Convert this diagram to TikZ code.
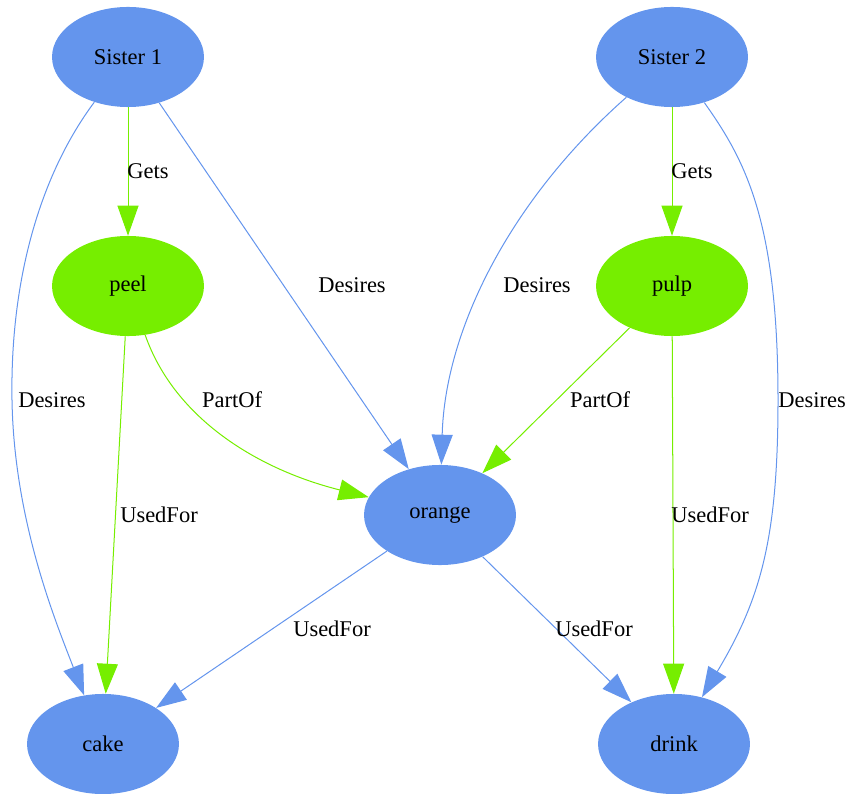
\documentclass[tikz,border=0pt]{standalone}
\usepackage{fontspec}
\setmainfont{Liberation Serif}
\usetikzlibrary{arrows.meta, shapes.geometric}
\definecolor{concblue}{HTML}{6495ED}
\definecolor{concgreen}{HTML}{76EE00}

\begin{document}
\begin{tikzpicture}[x=0.6667pt, y=-0.6667pt,
    font=\fontsize{15}{18}\selectfont,
    concept/.style={ellipse, fill=concblue, minimum width=101.3pt,
                    minimum height=66.7pt, inner sep=0pt},
    part/.style={concept, fill=concgreen},
    rel/.style={-{Triangle[length=20pt, width=14pt]}, line width=0.67pt},
    want/.style={rel, concblue},
    has/.style={rel, concgreen},
    lbl/.style={text=black, inner sep=0pt}]
  \useasboundingbox (0,0) rectangle (851,794);
  % people
  \node[concept] (s1) at (128,57) {Sister 1};
  \node[concept] (s2) at (672,57) {Sister 2};
  % what they get
  \node[part] (peel) at (128,286) {peel};
  \node[part] (pulp) at (672,286) {pulp};
  \node[concept] (orange) at (440,515) {orange};
  % uses
  \node[concept] (cake) at (103,744) {cake};
  \node[concept] (drink) at (674,744) {drink};

  \draw[has] (s1) -- (peel) node[lbl] at (148,171) {Gets};
  \draw[has] (s2) -- (pulp) node[lbl] at (692,171) {Gets};
  \draw[want] (s1) -- (orange) node[lbl] at (352,285) {Desires};
  \draw[want] (s1) .. controls (40,175) and (10,280) .. (12,400)
    .. controls (14,520) and (55,620) .. (cake) node[lbl] at (52,400) {Desires};
  \draw[want] (s2) .. controls (510,200) and (445,330) .. (orange)
    node[lbl] at (537,285) {Desires};
  \draw[want] (s2) .. controls (745,160) and (778,220) .. (778,400)
    .. controls (778,540) and (760,600) .. (drink) node[lbl] at (812,400) {Desires};
  \draw[has] (peel) .. controls (175,420) and (260,470) .. (orange)
    node[lbl] at (232,400) {PartOf};
  \draw[has] (pulp) -- (orange) node[lbl] at (600,400) {PartOf};
  \draw[has] (peel) -- (cake) node[lbl] at (159,515) {UsedFor};
  \draw[has] (pulp) -- (drink) node[lbl] at (710,515) {UsedFor};
  \draw[want] (orange) -- (cake) node[lbl] at (332,629) {UsedFor};
  \draw[want] (orange) -- (drink) node[lbl] at (594,629) {UsedFor};
\end{tikzpicture}
\end{document}
